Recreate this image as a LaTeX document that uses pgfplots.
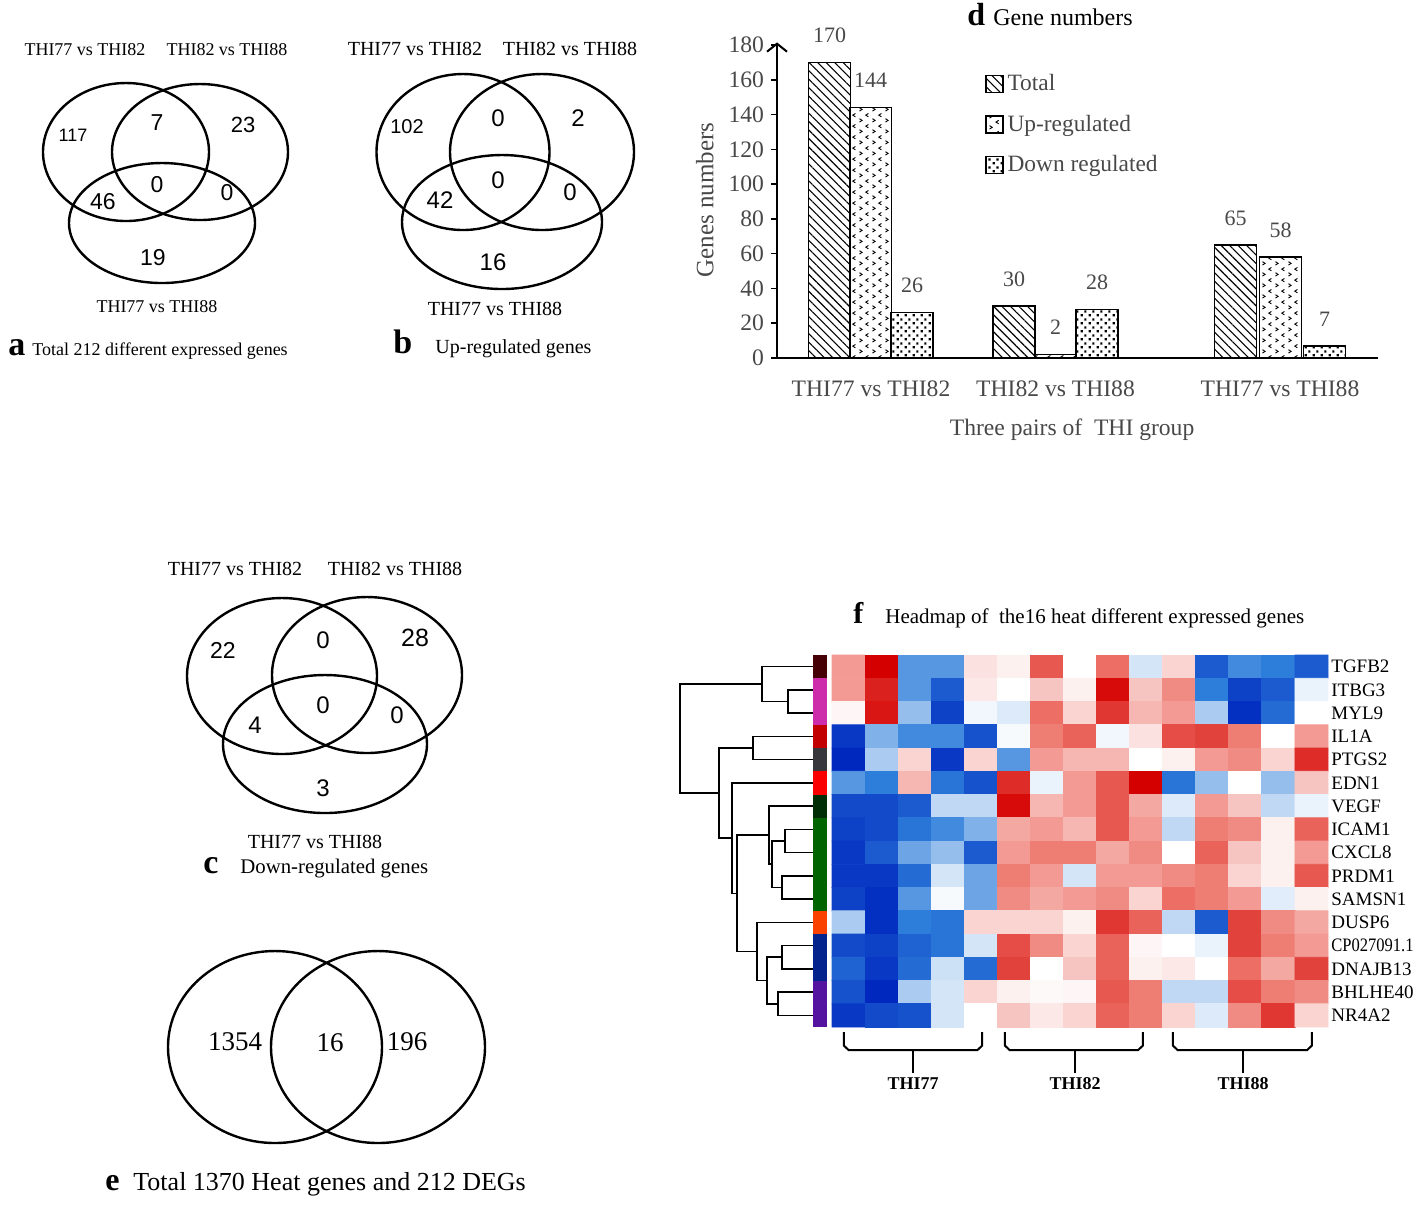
\documentclass[border=0pt]{standalone}
\usepackage{fontspec}
\setmainfont{Liberation Serif}
\newfontfamily\arial{Liberation Sans}
\usepackage{pgfplots}
\pgfplotsset{compat=1.18}
\usetikzlibrary{patterns,patterns.meta,arrows.meta}
\newcommand\fs[1]{\fontsize{#1}{#1}\selectfont}
\definecolor{dgray}{RGB}{72,72,72}
% side colour bar of the heatmap
\definecolor{cb1}{RGB}{70,0,5}
\definecolor{cb2}{RGB}{205,45,170}
\definecolor{cb3}{RGB}{195,0,0}
\definecolor{cb4}{RGB}{55,55,60}
\definecolor{cb5}{RGB}{250,0,0}
\definecolor{cb6}{RGB}{0,45,5}
\definecolor{cb7}{RGB}{0,100,0}
\definecolor{cb8}{RGB}{250,65,0}
\definecolor{cb9}{RGB}{5,35,140}
\definecolor{cb10}{RGB}{85,20,160}

\pgfdeclarepattern{name=chevrons, type=uncolored,
  bottom left={\pgfpoint{0pt}{0pt}}, top right={\pgfpoint{6.5pt}{5.6pt}},
  tile size={\pgfpoint{6.5pt}{5.6pt}},
  code={
    \pgfsetlinewidth{0.5pt}
    \pgfpathmoveto{\pgfpoint{0.8pt}{0.5pt}}\pgfpathlineto{\pgfpoint{2.2pt}{1.4pt}}\pgfpathlineto{\pgfpoint{0.8pt}{2.3pt}}
    \pgfpathmoveto{\pgfpoint{5.6pt}{3.3pt}}\pgfpathlineto{\pgfpoint{4.2pt}{4.2pt}}\pgfpathlineto{\pgfpoint{5.6pt}{5.1pt}}
    \pgfusepath{stroke}}}
\pgfdeclarepattern{name=dotsq, type=uncolored,
  bottom left={\pgfpoint{0pt}{0pt}}, top right={\pgfpoint{4pt}{4pt}},
  tile size={\pgfpoint{4pt}{4pt}},
  code={
    \pgfpathrectangle{\pgfpoint{0.4pt}{0.4pt}}{\pgfpoint{1.2pt}{1.2pt}}
    \pgfpathrectangle{\pgfpoint{2.4pt}{2.4pt}}{\pgfpoint{1.2pt}{1.2pt}}
    \pgfusepath{fill}}}

\tikzset{venn/.style={line width=1.2pt}}
\pgfplotsset{
  dend/.style={black, line width=0.8pt, no marks},
  brk/.style={black, line width=1pt, no marks},
  mybar/.style={ybar, bar width=42, bar shift=0pt, draw=black, line width=0.7pt,
    nodes near coords,
    every node near coord/.append style={font=\fs{11}, text=dgray, anchor=center, yshift=13.5pt},
    legend image code/.code={\draw[##1, draw=black, line width=0.6pt] (0pt,-4.25pt) rectangle (8.5pt,4.25pt);}},
}

\begin{document}
\begin{tikzpicture}

% ---------- canvas in pixel units: Venn panels and titles ----------
\begin{axis}[at={(0pt,0pt)}, anchor=north west, scale only axis,
  width=709pt, height=602.5pt, xmin=0, xmax=1418, ymin=0, ymax=1205, y dir=reverse,
  axis lines=none, clip=false]

% a
\draw[venn] (126,152) ellipse [x radius=83, y radius=69];
\draw[venn] (200,152) ellipse [x radius=88, y radius=68];
\draw[venn] (162,223) ellipse [x radius=93, y radius=60];
\node[font=\fs{9}, anchor=base] at (85,55) {THI77 vs THI82};
\node[font=\fs{9}, anchor=base] at (227,55) {THI82 vs THI88};
\node[font=\fs{9}, anchor=base] at (157,312) {THI77 vs THI88};
\node[font=\arial\fs{9}] at (73,135) {117};
\node[font=\arial\fs{11.5}] at (157,123) {7};
\node[font=\arial\fs{11}] at (243,125) {23};
\node[font=\arial\fs{11.5}] at (103,202) {46};
\node[font=\arial\fs{11.5}] at (157,185) {0};
\node[font=\arial\fs{11.5}] at (227,193) {0};
\node[font=\arial\fs{11.5}] at (153,258) {19};
\node[anchor=base west, inner sep=0pt] at (8,355) {\bfseries\fs{17}a};
\node[anchor=base west, inner sep=0pt] at (32,355) {\fs{9}Total 212 different expressed genes};

% b
\draw[venn] (463,152) ellipse [x radius=86.5, y radius=78];
\draw[venn] (542,152) ellipse [x radius=92, y radius=78];
\draw[venn] (502,222) ellipse [x radius=100, y radius=67];
\node[font=\fs{10}, anchor=base] at (415,55) {THI77 vs THI82};
\node[font=\fs{10}, anchor=base] at (570,55) {THI82 vs THI88};
\node[font=\fs{10}, anchor=base] at (495,315) {THI77 vs THI88};
\node[font=\arial\fs{10}] at (407,127) {102};
\node[font=\arial\fs{12}] at (498,118) {0};
\node[font=\arial\fs{12}] at (578,118) {2};
\node[font=\arial\fs{12}] at (440,200) {42};
\node[font=\arial\fs{12}] at (498,180) {0};
\node[font=\arial\fs{12}] at (570,192) {0};
\node[font=\arial\fs{12}] at (493,262) {16};
\node[anchor=base west, inner sep=0pt] at (393,353) {\bfseries\fs{17}b};
\node[anchor=base west, inner sep=0pt] at (435,353) {\fs{10}Up-regulated genes};

% c
\draw[venn] (282,676) ellipse [x radius=95, y radius=78];
\draw[venn] (367,675) ellipse [x radius=95, y radius=78];
\draw[venn] (325,744) ellipse [x radius=102, y radius=69];
\node[font=\fs{10}, anchor=base] at (235,575) {THI77 vs THI82};
\node[font=\fs{10}, anchor=base] at (395,575) {THI82 vs THI88};
\node[font=\fs{10}, anchor=base] at (315,848) {THI77 vs THI88};
\node[font=\arial\fs{11.5}] at (223,650) {22};
\node[font=\arial\fs{12}] at (323,640) {0};
\node[font=\arial\fs{12.5}] at (415,638) {28};
\node[font=\arial\fs{12}] at (255,725) {4};
\node[font=\arial\fs{12}] at (323,705) {0};
\node[font=\arial\fs{12}] at (397,715) {0};
\node[font=\arial\fs{12}] at (323,788) {3};
\node[anchor=base west, inner sep=0pt] at (203,873) {\bfseries\fs{17}c};
\node[anchor=base west, inner sep=0pt] at (240,873) {\fs{10.4}Down-regulated genes};

% e
\draw[venn] (275,1047) ellipse [x radius=107, y radius=96];
\draw[venn] (378,1047) ellipse [x radius=107, y radius=96];
\node[font=\fs{13.5}] at (235,1042) {1354};
\node[font=\fs{13.5}] at (330,1043) {16};
\node[font=\fs{13.5}] at (407,1042) {196};
\node[anchor=base west, inner sep=0pt] at (105,1190) {\bfseries\fs{16}e};
\node[anchor=base west, inner sep=0pt] at (133,1190) {\fs{13}Total 1370 Heat genes and 212 DEGs};

% titles of d and f
\node[anchor=base west, inner sep=0pt] at (967,25) {\bfseries\fs{16}d};
\node[anchor=base west, inner sep=0pt] at (993,25) {\fs{12}Gene numbers};
\node[anchor=base west, inner sep=0pt] at (853,623) {\bfseries\fs{15}f};
\node[anchor=base west, inner sep=0pt] at (885,623) {\fs{10.5}Headmap of\ \ the16 heat different expressed genes};
\end{axis}

% ---------- d: bar chart (x in pixel units) ----------
\begin{axis}[at={(388.5pt,-179pt)}, anchor=south west, scale only axis,
  width=300.5pt, height=157.8pt,
  xmin=777, xmax=1378, ymin=0, ymax=181.5, enlargelimits=false,
  axis x line=bottom, axis y line=left,
  axis line style={line width=1pt, black},
  x axis line style={-},
  y axis line style={-{Straight Barb[length=4pt,width=10pt]}},
  ytick={0,20,...,180}, tick align=outside, major tick length=3pt,
  xtick={871,1055.5,1280}, xticklabels={THI77 vs THI82,THI82 vs THI88,THI77 vs THI88},
  xtick style={draw=none}, ytick style={black, line width=0.8pt},
  /pgf/number format/assume math mode=true,
  tick label style={text=dgray},
  yticklabel style={font=\fs{11.8}},
  xticklabel style={font=\fs{11.8}, yshift=-5pt},
  xlabel={Three pairs of\ \ THI group}, ylabel={Genes numbers},
  xlabel style={font=\fs{11.8}, text=dgray, at={(axis description cs:0.491,-0.228)}, anchor=center},
  ylabel style={font=\fs{12.5}, text=dgray, at={(axis description cs:-0.12,0.5)}, anchor=center},
  legend style={at={(axis description cs:0.346,0.912)}, anchor=north west, draw=none, fill=none,
    font=\fs{11.7}, text=dgray, inner sep=0pt, row sep=6.5pt},
  legend cell align=left]
\addplot[mybar, pattern={Lines[angle=-45,distance=3pt,line width=0.55pt]}]
  coordinates {(829.5,170) (1014,30) (1235.5,65)};
\addplot[mybar, pattern=chevrons]
  coordinates {(870.5,144) (1055.5,2) (1280.5,58)};
\addplot[mybar, pattern=dotsq]
  coordinates {(912,26) (1097,28) (1324.5,7)};
\legend{Total, Up-regulated, Down regulated}
\end{axis}

% ---------- f: heatmap with dendrogram ----------
\begin{axis}[at={(416pt,-327.5pt)}, anchor=north west, scale only axis,
  width=248pt, height=186pt, xmin=0, xmax=15, ymin=0, ymax=16, y dir=reverse,
  enlargelimits=false, clip=false, axis line style={draw=none},
  xtick=\empty, ytick={0.5,1.5,...,15.5},
  yticklabels={TGFB2,ITBG3,MYL9,IL1A,PTGS2,EDN1,VEGF,ICAM1,CXCL8,PRDM1,SAMSN1,DUSP6,\scalebox{0.87}[1]{CP027091.1},DNAJB13,BHLHE40,NR4A2},
  yticklabel pos=right, major tick length=0pt,
  yticklabel style={font=\fs{9.5}, inner sep=1.5pt},
  colormap={hm}{rgb255=(0,40,190) rgb255=(45,125,218) rgb255=(255,255,255) rgb255=(236,110,100) rgb255=(212,0,0)},
  point meta min=-1, point meta max=1]
\addplot[matrix plot*, mesh/cols=15, point meta=explicit] coordinates {
(0.5,0.5)[0.35] (1.5,0.5)[1] (2.5,0.5)[-0.4] (3.5,0.5)[-0.4] (4.5,0.5)[0.1] (5.5,0.5)[0.05] (6.5,0.5)[0.6] (7.5,0.5)[0] (8.5,0.5)[0.5] (9.5,0.5)[-0.1] (10.5,0.5)[0.15] (11.5,0.5)[-0.7] (12.5,0.5)[-0.45] (13.5,0.5)[-0.5] (14.5,0.5)[-0.7]
(0.5,1.5)[0.35] (1.5,1.5)[0.85] (2.5,1.5)[-0.4] (3.5,1.5)[-0.7] (4.5,1.5)[0.08] (5.5,1.5)[0] (6.5,1.5)[0.2] (7.5,1.5)[0.05] (8.5,1.5)[0.95] (9.5,1.5)[0.2] (10.5,1.5)[0.4] (11.5,1.5)[-0.5] (12.5,1.5)[-0.85] (13.5,1.5)[-0.7] (14.5,1.5)[-0.05]
(0.5,2.5)[0.03] (1.5,2.5)[0.9] (2.5,2.5)[-0.25] (3.5,2.5)[-0.85] (4.5,2.5)[-0.03] (5.5,2.5)[-0.08] (6.5,2.5)[0.5] (7.5,2.5)[0.15] (8.5,2.5)[0.75] (9.5,2.5)[0.25] (10.5,2.5)[0.35] (11.5,2.5)[-0.2] (12.5,2.5)[-0.95] (13.5,2.5)[-0.6] (14.5,2.5)[0]
(0.5,3.5)[-0.9] (1.5,3.5)[-0.3] (2.5,3.5)[-0.45] (3.5,3.5)[-0.45] (4.5,3.5)[-0.75] (5.5,3.5)[-0.02] (6.5,3.5)[0.45] (7.5,3.5)[0.55] (8.5,3.5)[-0.03] (9.5,3.5)[0.1] (10.5,3.5)[0.65] (11.5,3.5)[0.7] (12.5,3.5)[0.45] (13.5,3.5)[0] (14.5,3.5)[0.35]
(0.5,4.5)[-1] (1.5,4.5)[-0.2] (2.5,4.5)[0.15] (3.5,4.5)[-0.9] (4.5,4.5)[0.15] (5.5,4.5)[-0.4] (6.5,4.5)[0.35] (7.5,4.5)[0.25] (8.5,4.5)[0.25] (9.5,4.5)[0] (10.5,4.5)[0.05] (11.5,4.5)[0.35] (12.5,4.5)[0.4] (13.5,4.5)[0.15] (14.5,4.5)[0.8]
(0.5,5.5)[-0.4] (1.5,5.5)[-0.5] (2.5,5.5)[0.25] (3.5,5.5)[-0.55] (4.5,5.5)[-0.75] (5.5,5.5)[0.8] (6.5,5.5)[-0.05] (7.5,5.5)[0.35] (8.5,5.5)[0.6] (9.5,5.5)[1] (10.5,5.5)[-0.55] (11.5,5.5)[-0.25] (12.5,5.5)[0] (13.5,5.5)[-0.25] (14.5,5.5)[0.2]
(0.5,6.5)[-0.8] (1.5,6.5)[-0.8] (2.5,6.5)[-0.7] (3.5,6.5)[-0.15] (4.5,6.5)[-0.15] (5.5,6.5)[0.95] (6.5,6.5)[0.25] (7.5,6.5)[0.35] (8.5,6.5)[0.6] (9.5,6.5)[0.3] (10.5,6.5)[-0.08] (11.5,6.5)[0.35] (12.5,6.5)[0.2] (13.5,6.5)[-0.15] (14.5,6.5)[-0.05]
(0.5,7.5)[-0.85] (1.5,7.5)[-0.8] (2.5,7.5)[-0.55] (3.5,7.5)[-0.45] (4.5,7.5)[-0.3] (5.5,7.5)[0.3] (6.5,7.5)[0.35] (7.5,7.5)[0.25] (8.5,7.5)[0.6] (9.5,7.5)[0.35] (10.5,7.5)[-0.15] (11.5,7.5)[0.45] (12.5,7.5)[0.4] (13.5,7.5)[0.05] (14.5,7.5)[0.55]
(0.5,8.5)[-0.9] (1.5,8.5)[-0.7] (2.5,8.5)[-0.35] (3.5,8.5)[-0.25] (4.5,8.5)[-0.7] (5.5,8.5)[0.35] (6.5,8.5)[0.45] (7.5,8.5)[0.45] (8.5,8.5)[0.3] (9.5,8.5)[0.4] (10.5,8.5)[0] (11.5,8.5)[0.55] (12.5,8.5)[0.2] (13.5,8.5)[0.05] (14.5,8.5)[0.35]
(0.5,9.5)[-0.9] (1.5,9.5)[-0.9] (2.5,9.5)[-0.6] (3.5,9.5)[-0.1] (4.5,9.5)[-0.35] (5.5,9.5)[0.45] (6.5,9.5)[0.35] (7.5,9.5)[-0.1] (8.5,9.5)[0.35] (9.5,9.5)[0.35] (10.5,9.5)[0.4] (11.5,9.5)[0.45] (12.5,9.5)[0.15] (13.5,9.5)[0.05] (14.5,9.5)[0.6]
(0.5,10.5)[-0.85] (1.5,10.5)[-0.95] (2.5,10.5)[-0.4] (3.5,10.5)[-0.02] (4.5,10.5)[-0.35] (5.5,10.5)[0.4] (6.5,10.5)[0.3] (7.5,10.5)[0.35] (8.5,10.5)[0.4] (9.5,10.5)[0.15] (10.5,10.5)[0.5] (11.5,10.5)[0.45] (12.5,10.5)[0.35] (13.5,10.5)[-0.07] (14.5,10.5)[0.05]
(0.5,11.5)[-0.2] (1.5,11.5)[-0.95] (2.5,11.5)[-0.5] (3.5,11.5)[-0.55] (4.5,11.5)[0.15] (5.5,11.5)[0.15] (6.5,11.5)[0.15] (7.5,11.5)[0.05] (8.5,11.5)[0.75] (9.5,11.5)[0.55] (10.5,11.5)[-0.15] (11.5,11.5)[-0.7] (12.5,11.5)[0.7] (13.5,11.5)[0.4] (14.5,11.5)[0.3]
(0.5,12.5)[-0.8] (1.5,12.5)[-0.85] (2.5,12.5)[-0.65] (3.5,12.5)[-0.55] (4.5,12.5)[-0.1] (5.5,12.5)[0.65] (6.5,12.5)[0.4] (7.5,12.5)[0.15] (8.5,12.5)[0.55] (9.5,12.5)[0.03] (10.5,12.5)[0] (11.5,12.5)[-0.05] (12.5,12.5)[0.7] (13.5,12.5)[0.45] (14.5,12.5)[0.35]
(0.5,13.5)[-0.65] (1.5,13.5)[-0.9] (2.5,13.5)[-0.6] (3.5,13.5)[-0.12] (4.5,13.5)[-0.6] (5.5,13.5)[0.7] (6.5,13.5)[0] (7.5,13.5)[0.2] (8.5,13.5)[0.55] (9.5,13.5)[0.05] (10.5,13.5)[0.08] (11.5,13.5)[0] (12.5,13.5)[0.5] (13.5,13.5)[0.3] (14.5,13.5)[0.7]
(0.5,14.5)[-0.75] (1.5,14.5)[-1] (2.5,14.5)[-0.2] (3.5,14.5)[-0.1] (4.5,14.5)[0.15] (5.5,14.5)[0.05] (6.5,14.5)[0.02] (7.5,14.5)[0.03] (8.5,14.5)[0.6] (9.5,14.5)[0.45] (10.5,14.5)[-0.15] (11.5,14.5)[-0.15] (12.5,14.5)[0.65] (13.5,14.5)[0.45] (14.5,14.5)[0.4]
(0.5,15.5)[-0.9] (1.5,15.5)[-0.8] (2.5,15.5)[-0.75] (3.5,15.5)[-0.1] (4.5,15.5)[0] (5.5,15.5)[0.2] (6.5,15.5)[0.08] (7.5,15.5)[0.15] (8.5,15.5)[0.55] (9.5,15.5)[0.45] (10.5,15.5)[0.15] (11.5,15.5)[-0.08] (12.5,15.5)[0.4] (13.5,15.5)[0.75] (14.5,15.5)[0.15]
};
% row colour bar
\addplot[fill=cb1, draw=none] coordinates {(-0.575,0) (-0.15,0) (-0.15,1) (-0.575,1)} -- cycle;
\addplot[fill=cb2, draw=none] coordinates {(-0.575,1) (-0.15,1) (-0.15,3) (-0.575,3)} -- cycle;
\addplot[fill=cb3, draw=none] coordinates {(-0.575,3) (-0.15,3) (-0.15,4) (-0.575,4)} -- cycle;
\addplot[fill=cb4, draw=none] coordinates {(-0.575,4) (-0.15,4) (-0.15,5) (-0.575,5)} -- cycle;
\addplot[fill=cb5, draw=none] coordinates {(-0.575,5) (-0.15,5) (-0.15,6) (-0.575,6)} -- cycle;
\addplot[fill=cb6, draw=none] coordinates {(-0.575,6) (-0.15,6) (-0.15,7) (-0.575,7)} -- cycle;
\addplot[fill=cb7, draw=none] coordinates {(-0.575,7) (-0.15,7) (-0.15,11) (-0.575,11)} -- cycle;
\addplot[fill=cb8, draw=none] coordinates {(-0.575,11) (-0.15,11) (-0.15,12) (-0.575,12)} -- cycle;
\addplot[fill=cb9, draw=none] coordinates {(-0.575,12) (-0.15,12) (-0.15,14) (-0.575,14)} -- cycle;
\addplot[fill=cb10, draw=none] coordinates {(-0.575,14) (-0.15,14) (-0.15,16) (-0.575,16)} -- cycle;
% dendrogram
\addplot[dend] coordinates {(-0.575,1.5) (-1.33,1.5) (-1.33,2.5) (-0.575,2.5)};
\addplot[dend] coordinates {(-0.575,0.5) (-2.12,0.5) (-2.12,2) (-1.33,2)};
\addplot[dend] coordinates {(-0.575,3.5) (-2.39,3.5) (-2.39,4.5) (-0.575,4.5)};
\addplot[dend] coordinates {(-0.575,7.5) (-1.42,7.5) (-1.42,8.5) (-0.575,8.5)};
\addplot[dend] coordinates {(-0.575,9.5) (-1.51,9.5) (-1.51,10.5) (-0.575,10.5)};
\addplot[dend] coordinates {(-1.42,8) (-1.81,8) (-1.81,10) (-1.51,10)};
\addplot[dend] coordinates {(-0.575,6.5) (-1.9,6.5) (-1.9,9) (-1.81,9)};
\addplot[dend] coordinates {(-0.575,12.5) (-1.51,12.5) (-1.51,13.5) (-0.575,13.5)};
\addplot[dend] coordinates {(-0.575,14.5) (-1.63,14.5) (-1.63,15.5) (-0.575,15.5)};
\addplot[dend] coordinates {(-1.51,13) (-1.97,13) (-1.97,15) (-1.63,15)};
\addplot[dend] coordinates {(-0.575,11.5) (-2.27,11.5) (-2.27,14) (-1.97,14)};
\addplot[dend] coordinates {(-1.9,7.75) (-2.87,7.75) (-2.87,12.75) (-2.27,12.75)};
\addplot[dend] coordinates {(-0.575,5.5) (-3.02,5.5) (-3.02,10.25) (-2.87,10.25)};
\addplot[dend] coordinates {(-2.39,4) (-3.42,4) (-3.42,7.875) (-3.02,7.875)};
\addplot[dend] coordinates {(-2.12,1.25) (-4.6,1.25) (-4.6,5.94) (-3.42,5.94)};
% group brackets
\addplot[brk] coordinates {(0.36,16.22) (0.36,16.8) (0.5,16.99) (4.4,16.99) (4.54,16.8) (4.54,16.22)};
\addplot[brk] coordinates {(2.45,16.99) (2.45,17.98)};
\addplot[brk] coordinates {(5.23,16.22) (5.23,16.8) (5.37,16.99) (9.26,16.99) (9.4,16.8) (9.4,16.22)};
\addplot[brk] coordinates {(7.35,16.99) (7.35,17.98)};
\addplot[brk] coordinates {(10.31,16.22) (10.31,16.8) (10.45,16.99) (14.37,16.99) (14.51,16.8) (14.51,16.22)};
\addplot[brk] coordinates {(12.43,16.99) (12.43,17.98)};
\node[font=\bfseries\fs{9}] at (2.45,18.45) {THI77};
\node[font=\bfseries\fs{9}] at (7.35,18.45) {THI82};
\node[font=\bfseries\fs{9}] at (12.43,18.45) {THI88};
\end{axis}

\pgfresetboundingbox
\useasboundingbox (0pt,0pt) rectangle (709pt,-602.5pt);
\end{tikzpicture}
\end{document}
